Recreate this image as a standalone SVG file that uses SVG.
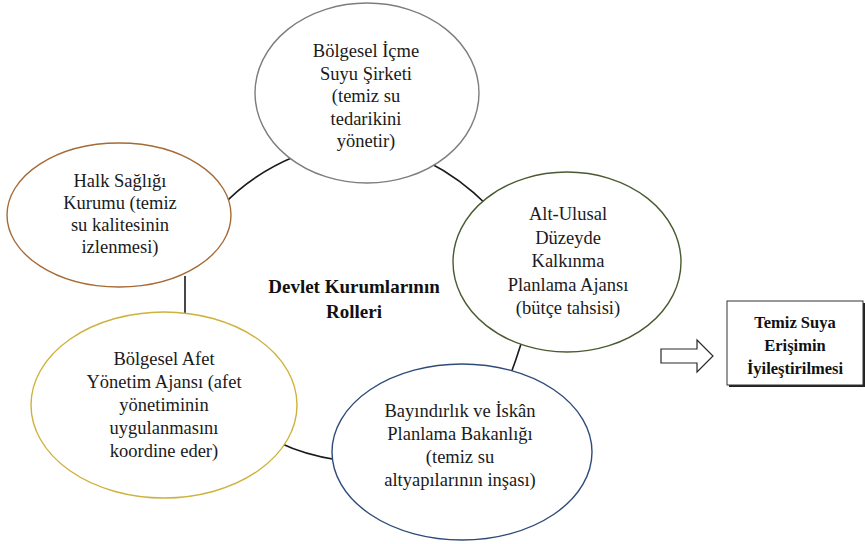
<svg xmlns="http://www.w3.org/2000/svg" width="865" height="544" viewBox="0 0 865 544">
  <style>
    .bg { fill: #ffffff; }
    .node { fill: #ffffff; stroke-width: 1.4; }
    .lbl { font-family: "Liberation Serif", "Times New Roman", serif; font-size: 18.5px; fill: #1a1a1a; text-anchor: middle; }
    .title { font-family: "Liberation Serif", "Times New Roman", serif; font-size: 19px; font-weight: bold; fill: #111111; text-anchor: middle; }
    .boxlbl { font-family: "Liberation Serif", "Times New Roman", serif; font-size: 16.5px; font-weight: bold; fill: #111111; text-anchor: middle; }
    .conn { fill: none; stroke: #1a1a1a; stroke-width: 1.6; }
  </style>

  <rect class="bg" x="0" y="0" width="865" height="544"/>

  <!-- ring of connectors between the institutions (ends tucked under the ellipses) -->
  <g id="connectors">
    <path class="conn" d="M222,206 Q252,174 296,156"/>
    <path class="conn" d="M428,162 Q460,178 488,206"/>
    <path class="conn" d="M185,276 L185,318"/>
    <path class="conn" d="M280,443 Q305,455 338,460"/>
    <path class="conn" d="M521,344 Q516,360 510,376"/>
  </g>

  <!-- Bölgesel İçme Suyu Şirketi -->
  <g id="node-icme-suyu">
    <ellipse class="node" cx="367" cy="93" rx="112" ry="90" stroke="#7d7d7d"/>
    <text class="lbl" x="366" y="57">Bölgesel İçme</text>
    <text class="lbl" x="366" y="79.5">Suyu Şirketi</text>
    <text class="lbl" x="366" y="102">(temiz su</text>
    <text class="lbl" x="366" y="124.5">tedarikini</text>
    <text class="lbl" x="366" y="147">yönetir)</text>
  </g>

  <!-- Halk Sağlığı Kurumu -->
  <g id="node-halk-sagligi">
    <ellipse class="node" cx="119" cy="215" rx="112" ry="72" stroke="#a66a35"/>
    <text class="lbl" x="120" y="187">Halk Sağlığı</text>
    <text class="lbl" x="120" y="209">Kurumu (temiz</text>
    <text class="lbl" x="120" y="231">su kalitesinin</text>
    <text class="lbl" x="120" y="253">izlenmesi)</text>
  </g>

  <!-- Alt-Ulusal Düzeyde Kalkınma Planlama Ajansı -->
  <g id="node-kalkinma">
    <ellipse class="node" cx="567" cy="262" rx="114" ry="90" stroke="#4a5a30"/>
    <text class="lbl" x="568" y="220">Alt-Ulusal</text>
    <text class="lbl" x="568" y="243.5">Düzeyde</text>
    <text class="lbl" x="568" y="267">Kalkınma</text>
    <text class="lbl" x="568" y="290.5">Planlama Ajansı</text>
    <text class="lbl" x="568" y="314">(bütçe tahsisi)</text>
  </g>

  <!-- Bölgesel Afet Yönetim Ajansı -->
  <g id="node-afet">
    <ellipse class="node" cx="164" cy="405" rx="133" ry="93" stroke="#cdb23c"/>
    <text class="lbl" x="164" y="365">Bölgesel Afet</text>
    <text class="lbl" x="164" y="388">Yönetim Ajansı (afet</text>
    <text class="lbl" x="164" y="411">yönetiminin</text>
    <text class="lbl" x="164" y="434">uygulanmasını</text>
    <text class="lbl" x="164" y="457">koordine eder)</text>
  </g>

  <!-- Bayındırlık ve İskân Planlama Bakanlığı -->
  <g id="node-bayindirlik">
    <ellipse class="node" cx="462" cy="452" rx="130" ry="88" stroke="#2f4b78"/>
    <text class="lbl" x="460" y="417">Bayındırlık ve İskân</text>
    <text class="lbl" x="460" y="440">Planlama Bakanlığı</text>
    <text class="lbl" x="460" y="463">(temiz su</text>
    <text class="lbl" x="460" y="486">altyapılarının inşası)</text>
  </g>

  <!-- central caption -->
  <g id="node-baslik">
    <text class="title" x="354" y="293">Devlet Kurumlarının</text>
    <text class="title" x="354" y="318">Rolleri</text>
  </g>

  <!-- block arrow -->
  <g id="node-ok">
    <polygon points="661,349 697,349 697,340 713,356 697,372 697,363 661,363" fill="#ffffff" stroke="#2a2a2a" stroke-width="1.2"/>
  </g>

  <!-- outcome box -->
  <g id="node-sonuc">
    <rect x="729" y="303" width="136" height="84" fill="#222222"/>
    <rect x="727" y="301" width="136" height="84" fill="#ffffff" stroke="#333333" stroke-width="1"/>
    <text class="boxlbl" x="795" y="328">Temiz Suya</text>
    <text class="boxlbl" x="795" y="351">Erişimin</text>
    <text class="boxlbl" x="795" y="374">İyileştirilmesi</text>
  </g>
</svg>
